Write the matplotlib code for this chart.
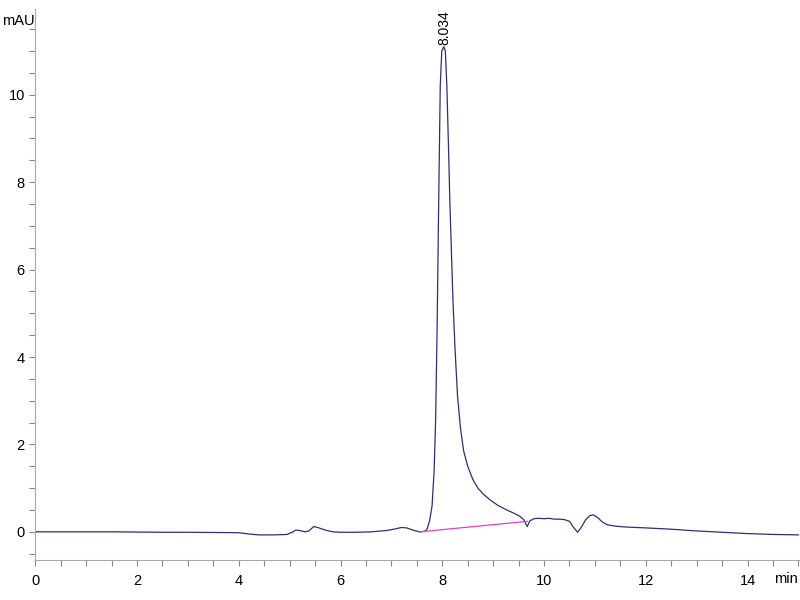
import matplotlib
matplotlib.use("Agg")
import matplotlib.pyplot as plt
from matplotlib.ticker import MultipleLocator

plt.rcParams['font.family'] = ['Liberation Sans Narrow', 'Liberation Sans', 'DejaVu Sans']

# chromatogram (min, mAU)
time = [0, 0.5, 1, 1.5, 2, 2.5, 3, 3.5, 4.0, 4.2, 4.4, 4.7, 4.95, 5.05, 5.12, 5.2,
        5.3, 5.38, 5.47, 5.55, 5.7, 5.85, 6.0, 6.3, 6.6, 6.9, 7.05, 7.2, 7.3, 7.45,
        7.56, 7.65, 7.7, 7.75, 7.8, 7.84, 7.87, 7.9, 7.93, 7.96, 7.99, 8.03, 8.06,
        8.09, 8.12, 8.15, 8.18, 8.21, 8.25, 8.3, 8.36, 8.42, 8.5, 8.6, 8.7, 8.8,
        8.95, 9.1, 9.25, 9.4, 9.52, 9.6, 9.67, 9.72, 9.8, 9.9, 10.0, 10.1, 10.2,
        10.3, 10.4, 10.5, 10.58, 10.66, 10.74, 10.82, 10.9, 10.97, 11.05, 11.15,
        11.25, 11.4, 11.6, 11.8, 12.0, 12.5, 13.0, 13.5, 14.0, 14.5, 15.0]
signal = [0, 0.0, 0.0, 0.0, -0.005, -0.01, -0.01, -0.015, -0.02, -0.05, -0.07, -0.07,
          -0.06, -0.01, 0.04, 0.03, 0.0, 0.02, 0.12, 0.1, 0.04, 0.0, -0.01, -0.01, 0.0,
          0.03, 0.06, 0.1, 0.09, 0.03, 0.0, 0.01, 0.06, 0.25, 0.6, 1.4, 2.6, 4.8, 7.6,
          10.2, 11.0, 11.1, 11.0, 10.2, 8.9, 7.5, 6.4, 5.3, 4.2, 3.1, 2.35, 1.85,
          1.5, 1.2, 1.0, 0.87, 0.72, 0.6, 0.51, 0.43, 0.36, 0.28, 0.12, 0.25, 0.3,
          0.31, 0.3, 0.31, 0.29, 0.29, 0.28, 0.24, 0.1, -0.01, 0.12, 0.28, 0.37, 0.39,
          0.33, 0.22, 0.16, 0.13, 0.11, 0.1, 0.09, 0.06, 0.02, -0.01, -0.04, -0.06, -0.07]

# integration baseline of the main peak
base_t = [7.56, 9.67]
base_y = [0.0, 0.24]

peak_rt = 8.034
peak_h = 11.1

fig = plt.figure(figsize=(8, 6), dpi=100)
ax = fig.add_axes([0.044, 0.067, 0.956, 0.9185])

ax.plot(time, signal, color='#2e2e78', lw=0.9)
ax.plot(base_t, base_y, color='#e040d0', lw=0.9)
ax.text(peak_rt, peak_h + 0.05, '8.034', rotation=90, ha='center', va='bottom',
        fontsize=10, clip_on=False)

ax.set_xlim(0, 15.03)
ax.set_ylim(-0.64, 11.97)
ax.xaxis.set_major_locator(MultipleLocator(2))
ax.xaxis.set_minor_locator(MultipleLocator(0.5))
ax.yaxis.set_major_locator(MultipleLocator(2))
ax.yaxis.set_minor_locator(MultipleLocator(0.5))

for s in ['top', 'right']:
    ax.spines[s].set_visible(False)
for s in ['left', 'bottom']:
    ax.spines[s].set_color('#a8a8a8')
ax.tick_params(which='both', color='#888888', length=4, width=0.8, labelsize=10.5)
ax.tick_params(axis='x', pad=6)

fig.text(0.002, 0.965, 'mAU', fontsize=10.5, ha='left', va='center')
fig.text(0.982, 0.035, 'min', fontsize=10.5, ha='center', va='center')

fig.savefig('out.png', dpi=100)
